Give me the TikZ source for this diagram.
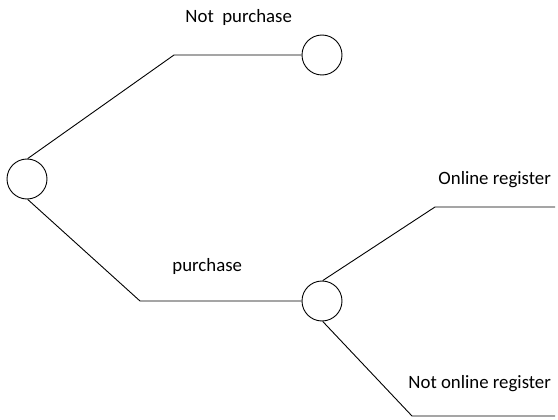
\documentclass[tikz,border=0pt]{standalone}
\usepackage{fontspec}
\setmainfont{Carlito}
\begin{document}
\begin{tikzpicture}[x=1pt,y=-1pt,line width=0.9pt,
  chance/.style={draw,circle,minimum size=40pt,inner sep=0pt},
  lab/.style={anchor=base west,inner sep=0pt,font=\fontsize{18.8}{22}\selectfont}]
  \useasboundingbox (0,0) rectangle (558,420);
  % chance nodes
  \node[chance] (root) at (27,179) {};
  \node[chance] (np) at (322,55) {};
  \node[chance] (buy) at (322,301) {};
  % bends and free ends of the branches
  \coordinate (npk) at (174,55);
  \coordinate (buyk) at (140,301);
  \coordinate (onk) at (435,207);
  \coordinate (one) at (555,207);
  \coordinate (offk) at (412,416);
  \coordinate (offe) at (555,416);
  \draw (root.88) -- (npk) -- (np.west);
  \draw (root.-88) -- (buyk) -- (buy.west);
  \draw (buy.88) -- (onk) -- (one);
  \draw (buy.-88) -- (offk) -- (offe);
  % branch labels
  \node[lab] (npl) at (185,23) {Not\ \ purchase};
  \node[lab] (buyl) at (172,272) {purchase};
  \node[lab] (onl) at (438,185) {Online register};
  \node[lab] (offl) at (408,388) {Not online register};
\end{tikzpicture}
\end{document}
